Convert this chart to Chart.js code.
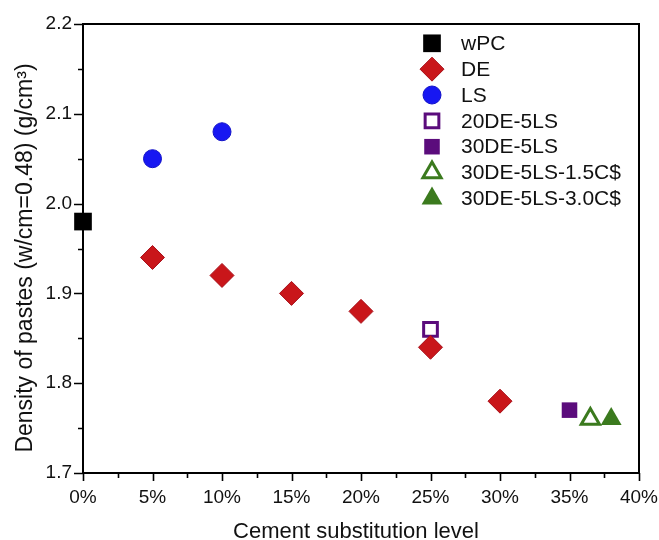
<!DOCTYPE html>
<html lang="en">
<head>
    <meta charset="UTF-8">
    <title>Density of pastes</title>
    <script src="https://cdn.jsdelivr.net/npm/chart.js"></script>
    <style>
        html, body {
            margin: 0;
            padding: 0;
            background: #fff;
        }

        #wrap {
            width: 659px;
            height: 540px;
        }
    </style>
</head>
<body>
    <div id="wrap">
        <canvas id="myChart" width="659" height="540"></canvas>
    </div>

    <script>
        // Series: cement substitution level (%) and paste density (g/cm3)
        const seriesNames = ['wPC', 'DE', 'LS', '20DE-5LS', '30DE-5LS', '30DE-5LS-1.5C$', '30DE-5LS-3.0C$'];

        const wpcLevel = [0];
        const wpcDensity = [1.98];

        const deLevel = [5, 10, 15, 20, 25, 30];
        const deDensity = [1.94, 1.92, 1.90, 1.88, 1.84, 1.78];

        const lsLevel = [5, 10];
        const lsDensity = [2.05, 2.08];

        const de20ls5Level = [25];
        const de20ls5Density = [1.86];

        const de30ls5Level = [35];
        const de30ls5Density = [1.77];

        const cs15Level = [36.5];
        const cs15Density = [1.76];

        const cs30Level = [38];
        const cs30Density = [1.76];

        // Axis ticks
        const xTicks = [0, 5, 10, 15, 20, 25, 30, 35, 40];
        const yTicks = [1.7, 1.8, 1.9, 2.0, 2.1, 2.2];

        const xTitle = 'Cement substitution level';
        const yTitle = 'Density of pastes (w/cm=0.48) (g/cm\u00B3)';

        function toPoints(xs, ys) {
            return xs.map((x, i) => ({ x: x, y: ys[i] }));
        }

        const GREEN = '#3b7a1e';
        const PURPLE = '#5b0c7c';

        const datasets = [
            { data: toPoints(wpcLevel, wpcDensity), pointStyle: 'rect', pointRadius: 12.5,
              backgroundColor: '#000', borderColor: '#000', borderWidth: 0 },
            { data: toPoints(deLevel, deDensity), pointStyle: 'rectRot', pointRadius: 12,
              backgroundColor: '#c9161a', borderColor: '#a8101a', borderWidth: 1 },
            { data: toPoints(lsLevel, lsDensity), pointStyle: 'circle', pointRadius: 9,
              backgroundColor: '#1717f2', borderColor: '#1212c8', borderWidth: 1 },
            { data: toPoints(de20ls5Level, de20ls5Density), pointStyle: 'rect', pointRadius: 9.7,
              backgroundColor: '#fff', borderColor: PURPLE, borderWidth: 3 },
            { data: toPoints(de30ls5Level, de30ls5Density), pointStyle: 'rect', pointRadius: 11,
              backgroundColor: PURPLE, borderColor: PURPLE, borderWidth: 0 },
            { data: toPoints(cs15Level, cs15Density), pointStyle: 'triangle', pointRadius: 10.5,
              backgroundColor: '#fff', borderColor: GREEN, borderWidth: 3 },
            { data: toPoints(cs30Level, cs30Density), pointStyle: 'triangle', pointRadius: 12,
              backgroundColor: GREEN, borderColor: GREEN, borderWidth: 0 }
        ].map((d, i) => Object.assign(d, {
            label: seriesNames[i],
            pointHoverRadius: d.pointRadius,
            clip: false
        }));

        // Box frame, major/minor tick marks, axis titles and the inset legend
        const decorations = {
            id: 'decorations',
            beforeDatasetsDraw(chart) {
                const { ctx, chartArea: a, scales: { x, y } } = chart;
                ctx.save();
                ctx.strokeStyle = '#000';
                ctx.lineWidth = 2;
                ctx.strokeRect(a.left, a.top, a.right - a.left, a.bottom - a.top);

                ctx.lineWidth = 1.6;
                ctx.beginPath();
                xTicks.forEach((v, i) => {
                    const px = Math.round(x.getPixelForValue(v)) + 0.5;
                    ctx.moveTo(px, a.bottom);
                    ctx.lineTo(px, a.bottom + 8);
                    if (i < xTicks.length - 1) {
                        const mx = Math.round(x.getPixelForValue((v + xTicks[i + 1]) / 2)) + 0.5;
                        ctx.moveTo(mx, a.bottom);
                        ctx.lineTo(mx, a.bottom + 5);
                    }
                });
                yTicks.forEach((v, i) => {
                    const py = Math.round(y.getPixelForValue(v)) + 0.5;
                    ctx.moveTo(a.left, py);
                    ctx.lineTo(a.left - 9, py);
                    if (i < yTicks.length - 1) {
                        const my = Math.round(y.getPixelForValue((v + yTicks[i + 1]) / 2)) + 0.5;
                        ctx.moveTo(a.left, my);
                        ctx.lineTo(a.left - 5, my);
                    }
                });
                ctx.stroke();

                // axis titles
                ctx.fillStyle = '#111';
                ctx.textAlign = 'center';
                ctx.textBaseline = 'alphabetic';
                ctx.font = '22px "Liberation Sans", Arial, sans-serif';
                ctx.fillText(xTitle, 356, 538);

                ctx.translate(32, 258);
                ctx.rotate(-Math.PI / 2);
                ctx.font = '23px "Liberation Sans", Arial, sans-serif';
                ctx.fillText(yTitle, 0, 0);
                ctx.restore();
            },
            afterDraw(chart) {
                const { ctx } = chart;
                ctx.save();
                chart.data.datasets.forEach((ds, i) => {
                    const cy = 43.3 + i * 25.85;
                    ctx.fillStyle = ds.backgroundColor;
                    ctx.strokeStyle = ds.borderColor;
                    ctx.lineWidth = ds.borderWidth;
                    Chart.helpers.drawPoint(ctx, {
                        pointStyle: ds.pointStyle,
                        radius: ds.pointRadius,
                        rotation: 0,
                        borderWidth: ds.borderWidth
                    }, 432, cy);
                    ctx.fillStyle = '#111';
                    ctx.font = '21px "Liberation Sans", Arial, sans-serif';
                    ctx.textAlign = 'left';
                    ctx.textBaseline = 'middle';
                    ctx.fillText(ds.label, 461, cy + 1);
                });
                ctx.restore();
            }
        };

        const tickFont = { family: '"Liberation Sans", Arial, sans-serif', size: 19 };

        const config = {
            type: 'scatter',
            data: { datasets: datasets },
            plugins: [decorations],
            options: {
                responsive: false,
                animation: false,
                events: [],
                layout: { padding: { top: 24, right: 20, left: 0, bottom: 0 } },
                plugins: {
                    legend: { display: false },
                    tooltip: { enabled: false }
                },
                scales: {
                    x: {
                        type: 'linear',
                        min: 0,
                        max: 40,
                        afterFit(scale) {
                            scale.height = 67;
                            scale.paddingLeft = 0;
                            scale.paddingRight = 0;
                        },
                        afterBuildTicks(scale) { scale.ticks = xTicks.map(v => ({ value: v })); },
                        grid: { display: false, drawTicks: false },
                        border: { display: false },
                        ticks: {
                            color: '#111',
                            font: tickFont,
                            padding: 13,
                            maxRotation: 0,
                            callback: v => v + '%'
                        }
                    },
                    y: {
                        type: 'linear',
                        min: 1.7,
                        max: 2.2,
                        afterFit(scale) {
                            scale.width = 83;
                            scale.paddingTop = 0;
                            scale.paddingBottom = 0;
                        },
                        afterBuildTicks(scale) { scale.ticks = yTicks.map(v => ({ value: v })); },
                        grid: { display: false, drawTicks: false },
                        border: { display: false },
                        ticks: {
                            color: '#111',
                            font: tickFont,
                            padding: 11,
                            callback: v => v.toFixed(1)
                        }
                    }
                }
            }
        };

        var myChart = new Chart(document.getElementById('myChart'), config);
    </script>
</body>
</html>
